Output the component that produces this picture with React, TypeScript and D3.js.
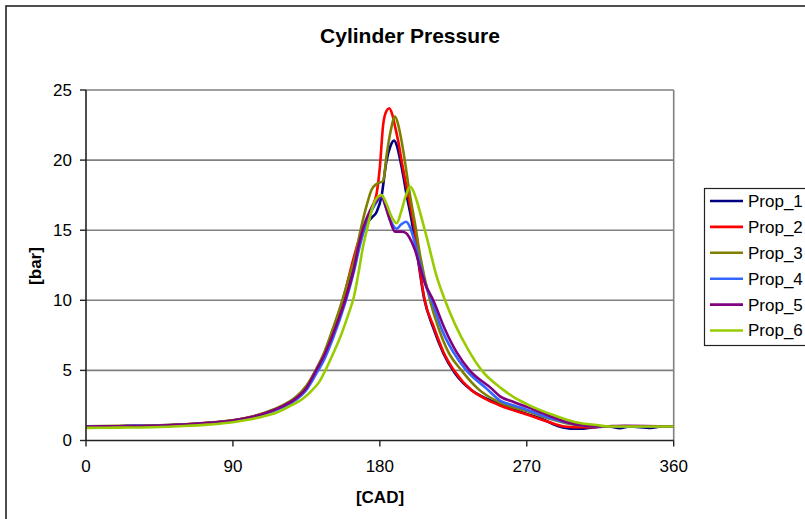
import React from "react";
import * as d3 from "d3";

type Pt = [number, number];

const seriesNames: string[] = ["Prop_1", "Prop_2", "Prop_3", "Prop_4", "Prop_5", "Prop_6"];
const seriesColors: string[] = ["#000080", "#FF0000", "#808000", "#3366FF", "#800080", "#99CC00"];

const xTicks: number[] = [0, 90, 180, 270, 360];
const yTicks: number[] = [0, 5, 10, 15, 20, 25];

const prop1: Pt[] = [[0,1.0],[20,1.02],[40,1.05],[60,1.13],[75,1.25],[90,1.42],[100,1.62],[110,1.95],[120,2.4],[128,2.95],[135,3.75],[141,4.9],[146,6.0],[151,7.5],[158,9.9],[163,12.2],[167,14.0],[171,15.3],[175,15.9],[178,16.3],[181,17.4],[184,19.9],[186.5,21.0],[188.7,21.4],[190.5,21.0],[192.3,20.1],[194.5,18.8],[196.4,17.5],[198.5,16.3],[200.5,15.0],[203,13.2],[207,10.2],[212.5,8.1],[219,6.2],[226,4.8],[236,3.6],[245,3.0],[253.6,2.6],[262,2.2],[270,1.9],[280,1.5],[290,1.0],[297,0.85],[305,0.85],[312,0.95],[320,1.0],[327,0.88],[333,1.0],[346,0.9],[352,1.0],[360,1.0]];

const prop2: Pt[] = [[0,1.0],[20,1.02],[40,1.05],[60,1.14],[75,1.26],[90,1.44],[100,1.65],[110,1.98],[120,2.45],[128,3.0],[135,3.85],[141,5.05],[146,6.2],[151,7.8],[158,10.3],[163,12.6],[168,14.6],[172,15.6],[175,16.6],[178,17.6],[180,19.5],[182,22.5],[184,23.5],[185.8,23.7],[187.5,23.3],[189.3,22.4],[191.5,21.2],[193.4,19.9],[195.5,18.6],[197.5,17.4],[199.5,16.2],[201.5,14.9],[204,12.6],[207.5,10.0],[212.7,8.2],[219,6.3],[226,4.9],[236,3.6],[245,2.95],[253.6,2.5],[262,2.15],[270,1.85],[284,1.3],[293,1.0],[300,0.95],[313,0.95]];

const prop3: Pt[] = [[0,1.02],[20,1.04],[40,1.06],[60,1.15],[75,1.27],[90,1.45],[100,1.66],[110,2.0],[120,2.48],[128,3.05],[135,3.9],[141,5.1],[146,6.3],[151,7.9],[157,10.0],[161,11.6],[164.8,13.1],[168,14.9],[172,16.8],[175,17.9],[178,18.3],[182,18.5],[184.2,20.4],[186.5,22.0],[189.3,23.1],[191.3,22.5],[193.4,21.3],[195.5,19.8],[197.5,18.2],[199.5,16.8],[201.5,15.5],[204.5,13.3],[210.7,10.0],[216,8.0],[222,6.3],[230,5.0],[240,3.7],[253.6,2.7],[262,2.35],[270,2.1],[284,1.55],[300,1.1],[315,1.0],[330,1.0],[360,1.0]];

const prop4: Pt[] = [[0,1.0],[20,1.02],[30,1.06],[40,1.03],[60,1.12],[75,1.24],[90,1.4],[100,1.6],[110,1.92],[120,2.35],[128,2.85],[135,3.6],[141,4.75],[146,5.8],[151,7.2],[159,9.9],[164,12.0],[168,14.0],[172,15.6],[175,16.4],[178,17.0],[181,17.4],[183.5,16.7],[186.5,15.7],[190.3,15.1],[193,15.4],[196,15.6],[198.5,15.2],[200.5,14.5],[202.5,13.6],[204.6,12.6],[208,11.1],[211.7,10.0],[218,7.9],[225,6.3],[233,5.0],[245.4,3.7],[253.6,2.85],[262,2.5],[270,2.2],[284,1.6],[300,1.15],[315,1.0],[330,1.0],[360,1.0]];

const prop5: Pt[] = [[0,1.0],[20,1.02],[40,1.05],[60,1.14],[75,1.26],[90,1.43],[100,1.64],[110,1.96],[120,2.42],[128,2.95],[135,3.75],[141,5.0],[146,6.1],[151,7.5],[158.7,10.0],[163.8,12.1],[167,13.9],[169.9,15.2],[174,16.4],[178,17.1],[181.1,17.5],[183.5,16.7],[186.2,15.7],[189.3,14.9],[193.4,14.9],[196,14.8],[198,14.5],[201.5,13.6],[204.5,12.4],[207.7,11.2],[212.7,10.0],[220,7.9],[227,6.3],[235,5.0],[248.5,3.7],[253.6,3.15],[262,2.75],[270,2.4],[284,1.75],[300,1.15],[315,1.0],[330,1.05],[360,1.0]];

const prop6: Pt[] = [[0,0.9],[20,0.92],[40,0.95],[60,1.03],[75,1.13],[90,1.3],[100,1.5],[108,1.7],[116.8,2.0],[124,2.4],[133,3.0],[139,3.65],[143,4.2],[146.4,4.95],[151,6.1],[156.5,7.6],[161,9.1],[164,10.2],[167,12.0],[169.5,13.7],[172,15.0],[176,16.8],[179,17.4],[181.1,17.5],[184,16.9],[187,16.0],[190.3,15.5],[193,16.3],[196,17.5],[198.5,18.1],[200.5,17.8],[202.6,17.1],[205.5,15.9],[208.7,14.5],[214.8,11.7],[219.9,10.0],[226,8.3],[234,6.5],[242.4,5.0],[254.6,3.7],[262,3.1],[270,2.6],[284.2,1.9],[300,1.3],[312.8,1.1],[321,1.0],[360,1.0]];

const seriesData: Pt[][] = [prop1, prop2, prop3, prop4, prop5, prop6];

const FONT = "'Liberation Sans', Arial, sans-serif";

export default function App() {
  const W = 805, H = 519;
  const x = d3.scaleLinear().domain([0, 360]).range([86, 673.7]);
  const y = d3.scaleLinear().domain([0, 25]).range([440.5, 90]);
  const line = d3
    .line<Pt>()
    .x((d) => x(d[0]))
    .y((d) => y(d[1]))
    .curve(d3.curveMonotoneX);

  const legendX = 704.5, legendY = 188.5, rowH = 25.9, firstRow = 201;

  return (
    <svg
      width={W}
      height={H}
      style={{ position: "absolute", left: 0, top: 0, background: "#fff" }}
      fontFamily={FONT}
    >
      <rect x={0} y={0} width={W} height={H} fill="#fff" />
      {/* chart border */}
      <rect x={6} y={6} width={W + 20} height={H + 20} fill="#fff" stroke="#222" strokeWidth={1.6} />

      {/* title */}
      <text x={410} y={43} textAnchor="middle" fontSize={21} fontWeight="bold" fill="#000">
        Cylinder Pressure
      </text>

      {/* gridlines */}
      {yTicks.filter((t) => t > 0).map((t) => (
        <line key={"g" + t} x1={x(0)} x2={x(360)} y1={y(t)} y2={y(t)} stroke="#808080" strokeWidth={1.6} />
      ))}
      {/* right plot border */}
      <line x1={x(360)} x2={x(360)} y1={y(25)} y2={y(0)} stroke="#808080" strokeWidth={1.6} />

      {/* series */}
      {seriesData.map((s, i) => (
        <path key={seriesNames[i]} d={line(s) || ""} fill="none" stroke={seriesColors[i]} strokeWidth={2.6} strokeLinejoin="round" />
      ))}

      {/* axes */}
      <line x1={x(0)} x2={x(0)} y1={y(25)} y2={y(0)} stroke="#222" strokeWidth={1.6} />
      <line x1={x(0)} x2={x(360)} y1={y(0)} y2={y(0)} stroke="#222" strokeWidth={1.6} />
      {yTicks.map((t) => (
        <g key={"y" + t}>
          <line x1={x(0) - 6} x2={x(0)} y1={y(t)} y2={y(t)} stroke="#222" strokeWidth={1.4} />
          <text x={72} y={y(t)} dy="0.35em" textAnchor="end" fontSize={17} fill="#000">
            {t}
          </text>
        </g>
      ))}
      {xTicks.map((t) => (
        <g key={"x" + t}>
          <line x1={x(t)} x2={x(t)} y1={y(0)} y2={y(0) + 6} stroke="#222" strokeWidth={1.4} />
          <text x={x(t)} y={472} textAnchor="middle" fontSize={17} fill="#000">
            {t}
          </text>
        </g>
      ))}

      {/* axis titles */}
      <text x={380} y={503} textAnchor="middle" fontSize={17} fontWeight="bold" fill="#000">
        [CAD]
      </text>
      <text
        transform={`translate(41,266) rotate(-90)`}
        textAnchor="middle"
        fontSize={17}
        fontWeight="bold"
        fill="#000"
      >
        [bar]
      </text>

      {/* legend */}
      <rect x={legendX} y={legendY} width={140} height={157} fill="#fff" stroke="#222" strokeWidth={1.2} />
      {seriesNames.map((n, i) => (
        <g key={"l" + n}>
          <line x1={710} x2={743} y1={firstRow + i * rowH} y2={firstRow + i * rowH} stroke={seriesColors[i]} strokeWidth={2.6} />
          <text x={748} y={firstRow + i * rowH} dy="0.35em" fontSize={17} fill="#000">
            {n}
          </text>
        </g>
      ))}
    </svg>
  );
}
